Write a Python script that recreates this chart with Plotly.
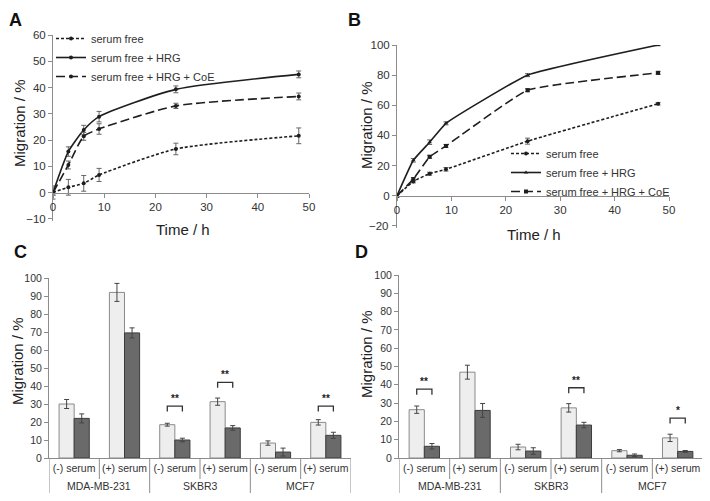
import plotly.graph_objects as go

# ---------------- data ----------------
time_h = [0, 3, 6, 9, 24, 48]

# panel A
a_free = [0, 2.0, 3.5, 6.7, 16.6, 21.6]
a_free_err = [2.5, 3.0, 3.0, 2.5, 2.2, 3.0]
a_hrg = [0, 15.6, 23.8, 28.9, 39.3, 45.0]
a_hrg_err = [1.0, 1.8, 1.8, 2.0, 1.3, 1.3]
a_coe = [0, 10.5, 21.4, 24.2, 33.0, 36.6]
a_coe_err = [1.0, 1.5, 1.5, 2.0, 1.0, 1.3]

# panel B
b_free = [0, 9.5, 14.6, 17.5, 36.2, 61.0]
b_free_err = [0.8, 1.0, 1.0, 1.2, 2.0, 0.8]
b_hrg = [0, 23.5, 35.5, 48.0, 80.0, 100.0]
b_hrg_err = [0.8, 1.2, 1.5, 1.0, 1.0, 0.5]
b_coe = [0, 11.0, 25.8, 33.0, 70.0, 81.5]
b_coe_err = [0.8, 1.0, 1.0, 1.0, 1.0, 1.0]

series_names = ["serum free", "serum free + HRG", "serum free + HRG + CoE"]

# y ticks of the time-course panels
a_yticks = [-10, 0, 10, 20, 30, 40, 50, 60]
b_yticks = [-20, 0, 20, 40, 60, 80, 100]

# panels C / D
cell_lines = ["MDA-MB-231", "SKBR3", "MCF7"]
serum = ["(-) serum", "(+) serum"]

c_light = [30.0, 92.0, 18.5, 31.3, 8.3, 19.8]
c_light_err = [2.5, 5.0, 0.8, 2.0, 1.2, 1.5]
c_dark = [22.0, 69.5, 10.0, 16.7, 3.3, 12.6]
c_dark_err = [2.5, 2.8, 1.0, 1.3, 2.2, 1.7]

d_light = [26.4, 46.9, 6.0, 27.4, 4.0, 11.0]
d_light_err = [2.0, 3.8, 1.5, 2.3, 0.6, 2.0]
d_dark = [6.4, 26.0, 3.8, 18.0, 1.5, 3.6]
d_dark_err = [1.5, 3.8, 1.8, 1.5, 0.7, 0.5]

# significance: (category index, bracket height, label)
c_sig = [(2, 28.8, "**"), (3, 42.0, "**"), (5, 28.8, "**")]
d_sig = [(0, 37.6, "**"), (3, 38.4, "**"), (5, 21.8, "*")]

# ---------------- style ----------------
# page body has an 8px margin, so the figure is 8px smaller than the window
OFF = 8
W, H = 710 - OFF, 501 - OFF
FONT = "Arial, Liberation Sans, sans-serif"
LINE = "#1e1e1e"
AXC = "#8c8c8c"
TXT = "#333333"
LIGHT = "#eeeeee"
DARK = "#6a6a6a"


def px2x(px):
    return (px - OFF) / W


def py2y(py):
    return 1 - (py - OFF) / H


def dom_x(x0, x1):
    return [px2x(x0), px2x(x1)]


def dom_y(top, bottom):
    return [py2y(bottom), py2y(top)]


dom = {
    "A": (dom_x(53, 309), dom_y(35, 221)),
    "B": (dom_x(397, 669), dom_y(45, 228)),
    "C": (dom_x(49, 351), dom_y(278, 458)),
    "D": (dom_x(399, 703), dom_y(275, 458)),
}

fig = go.Figure()

dashes = ["3px,2px", "solid", "9px,4px"]


def add_time_series(vals, errs, xa, ya, legend, symbols, smooth):
    for name, v, e, d, sym in zip(series_names, vals, errs, dashes, symbols):
        fig.add_trace(go.Scatter(
            x=time_h, y=v, name=name, xaxis=xa, yaxis=ya, legend=legend,
            mode="lines+markers",
            line=dict(color=LINE, width=1.6, dash=d, shape="spline", smoothing=smooth),
            marker=dict(color=LINE, size=4, symbol=sym),
            error_y=dict(type="data", array=e, color="#666666", thickness=1, width=2.5),
        ))


add_time_series([a_free, a_hrg, a_coe], [a_free_err, a_hrg_err, a_coe_err],
                "x", "y", "legend", ["circle", "circle", "circle"], 0.6)
add_time_series([b_free, b_hrg, b_coe], [b_free_err, b_hrg_err, b_coe_err],
                "x2", "y2", "legend2", ["circle", "triangle-up", "square"], 0.35)

cats = [f"{g} {s}" for g in cell_lines for s in serum]


def add_bars(light, light_err, dark, dark_err, xa, ya):
    for v, e, fill, edge in [(light, light_err, LIGHT, "#8a8a8a"), (dark, dark_err, DARK, "#3c3c3c")]:
        fig.add_trace(go.Bar(
            x=cats, y=v, xaxis=xa, yaxis=ya, showlegend=False,
            marker=dict(color=fill, line=dict(color=edge, width=1)),
            error_y=dict(type="data", array=e, color="#444444", thickness=1, width=2.5),
        ))


add_bars(c_light, c_light_err, c_dark, c_dark_err, "x3", "y3")
add_bars(d_light, d_light_err, d_dark, d_dark_err, "x4", "y4")

tickfont = dict(family=FONT, size=11.5, color=TXT)
smallfont = dict(family=FONT, size=10.5, color=TXT)
titlefont = dict(family=FONT, size=15, color="#222222")


def axis_title(text, px, py, vertical):
    fig.add_annotation(x=px2x(px), y=py2y(py), xref="paper", yref="paper", text=text,
                       showarrow=False, xanchor="center", yanchor="middle",
                       textangle=-90 if vertical else 0, font=titlefont)


def minus(t):
    return str(t).replace("-", "\u2212")


def line_axes(n, key, yticks, drop_lowest=False):
    xd, yd = dom[key]
    # a little slack below the lowest tick so its label is kept
    slack = 0.012 * (yticks[-1] - yticks[0])
    yr = [yticks[0] - slack, yticks[-1]]
    pos = yd[0] + (0 - yr[0]) / (yr[1] - yr[0]) * (yd[1] - yd[0])
    sfx = "" if n == 1 else str(n)
    labels = [minus(t) for t in yticks]
    if drop_lowest:
        labels[0] = ""
    fig.update_layout(**{
        f"xaxis{sfx}": dict(domain=xd, anchor="free", position=pos, range=[0, 50], dtick=10,
                            showgrid=False, zeroline=False, showline=True, linecolor=AXC,
                            ticks="outside", ticklen=4, tickcolor=AXC, tickfont=tickfont,
                            automargin=False),
        f"yaxis{sfx}": dict(domain=yd, anchor=f"x{sfx}", range=yr, tickmode="array",
                            tickvals=yticks, ticktext=labels,
                            ticklabeloverflow="allow", showgrid=False, zeroline=False,
                            showline=True, linecolor=AXC, ticks="outside", ticklen=4,
                            tickcolor=AXC, tickfont=tickfont, automargin=False),
    })


line_axes(1, "A", a_yticks)
line_axes(2, "B", b_yticks, drop_lowest=True)
# the lowest label of panel B is written as text at its tick instead
fig.add_annotation(x=0, y=b_yticks[0], xref="x2 domain", yref="y2", text=minus(b_yticks[0]),
                   showarrow=False, xanchor="right", yanchor="middle", xshift=-6,
                   font=tickfont, bgcolor="rgba(255,255,255,0)")
axis_title("Migration / %", 20, 123, True)
axis_title("Time / h", 183, 229, False)
axis_title("Migration / %", 366, 125, True)
axis_title("Time / h", 534, 234, False)


def bar_axes(n, key):
    xd, yd = dom[key]
    fig.update_layout(**{
        f"xaxis{n}": dict(domain=xd, anchor=f"y{n}", type="category", range=[-0.5, 5.5],
                          tickvals=cats, ticktext=serum * 3, tickangle=0, showgrid=False,
                          showline=True, linecolor=AXC, ticks="", tickfont=smallfont,
                          automargin=False),
        f"yaxis{n}": dict(domain=yd, anchor=f"x{n}", range=[0, 100], dtick=10,
                          showgrid=False, zeroline=False, showline=True, linecolor=AXC,
                          ticks="outside", ticklen=4, tickcolor=AXC, tickfont=smallfont,
                          automargin=False),
    })
    ph = (yd[1] - yd[0]) * H
    # dividers of the two-level category axis
    for i in range(7):
        xpos = i - 0.5
        depth = 35 if i % 2 == 0 else 21
        fig.add_shape(type="line", xref=f"x{n}", yref=f"y{n} domain", x0=xpos, x1=xpos,
                      y0=0, y1=-depth / ph, line=dict(color=AXC, width=1))
    for gi, g in enumerate(cell_lines):
        fig.add_annotation(x=2 * gi + 0.5, y=0, xref=f"x{n}", yref=f"y{n} domain",
                           text=g, showarrow=False, yanchor="middle", yshift=-28,
                           font=smallfont)


bar_axes(3, "C")
bar_axes(4, "D")
axis_title("Migration / %", 17, 361, True)
axis_title("Migration / %", 366, 354, True)


def add_sig(sig, n):
    for idx, yb, lab in sig:
        x0, x1 = idx - 0.15, idx + 0.15
        fig.add_shape(type="path", xref=f"x{n}", yref=f"y{n}",
                      path=f"M {x0},{yb - 3} L {x0},{yb} L {x1},{yb} L {x1},{yb - 3}",
                      line=dict(color="#333333", width=1.3))
        fig.add_annotation(x=idx, y=yb, xref=f"x{n}", yref=f"y{n}", text=f"<b>{lab}</b>",
                           showarrow=False, yanchor="bottom", yshift=0,
                           font=dict(family=FONT, size=10, color="#222222"))


add_sig(c_sig, 3)
add_sig(d_sig, 4)

# panel letters
for lab, px, py, anchor in [("A", 7, 8, "top"), ("B", 346, 8, "top"),
                            ("C", 12, 252, "middle"), ("D", 353, 252, "middle")]:
    fig.add_annotation(x=px2x(px), y=py2y(py), xref="paper", yref="paper", text=f"<b>{lab}</b>",
                       showarrow=False, xanchor="left", yanchor=anchor,
                       font=dict(family=FONT, size=18, color="#111111"))

legfont = dict(family=FONT, size=11, color=TXT)
fig.update_layout(
    width=W, height=H,
    margin=dict(l=0, r=0, t=0, b=0),
    paper_bgcolor="white", plot_bgcolor="white",
    font=dict(family=FONT),
    barmode="group", bargap=0.4, bargroupgap=0,
    legend=dict(x=px2x(51), y=py2y(24), xanchor="left", yanchor="top",
                bgcolor="rgba(0,0,0,0)", font=legfont, tracegroupgap=0),
    legend2=dict(x=px2x(506), y=py2y(139), xanchor="left", yanchor="top",
                 bgcolor="rgba(0,0,0,0)", font=legfont, tracegroupgap=0),
)

fig.write_html("out.html")
